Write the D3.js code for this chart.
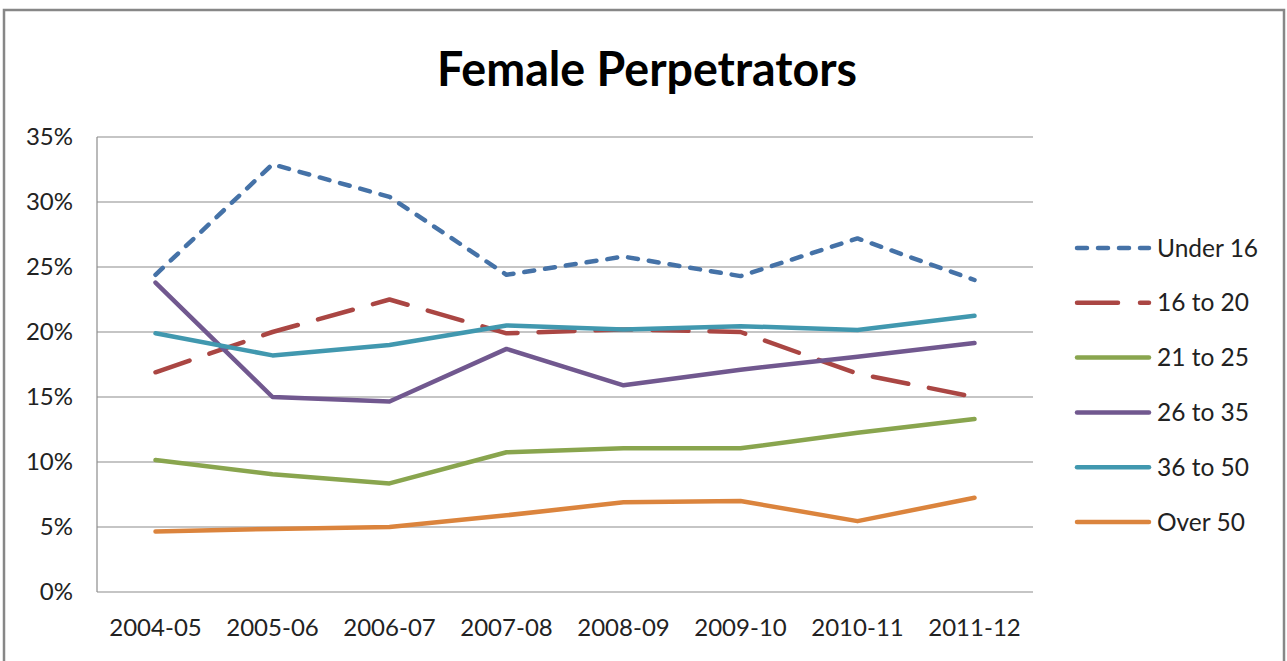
<!DOCTYPE html>
<html><head><meta charset="utf-8">
<script src="https://cdn.jsdelivr.net/npm/d3@7"></script>
<style>body{margin:0;background:#fff;}svg{display:block;}</style>
</head><body>
<svg id="c" width="1287" height="661"></svg>
<script>
const categories = ["2004-05","2005-06","2006-07","2007-08","2008-09","2009-10","2010-11","2011-12"];
const under16 = [24.4,32.9,30.4,24.4,25.8,24.3,27.2,24.0];
const age16to20 = [16.9,20.0,22.5,19.9,20.2,20.0,16.8,15.0];
const age21to25 = [10.15,9.05,8.35,10.75,11.05,11.05,12.25,13.3];
const age26to35 = [23.8,15.0,14.65,18.7,15.9,17.1,18.1,19.15];
const age36to50 = [19.9,18.2,19.0,20.5,20.2,20.45,20.15,21.25];
const over50 = [4.65,4.85,5.0,5.9,6.9,7.0,5.45,7.25];
const yTicks = [0,5,10,15,20,25,30,35];
const seriesNames = ["Under 16","16 to 20","21 to 25","26 to 35","36 to 50","Over 50"];
const seriesValues = [under16, age16to20, age21to25, age26to35, age36to50, over50];
const colors = ["#4572A7","#AA4643","#89A54E","#71588F","#4198AF","#DB843D"];
const dashes = ["10,11","36,21",null,null,null,null];

const svg = d3.select("#c");
const font = "Lato, 'Open Sans', sans-serif";

// outer border
svg.append("rect").attr("x",4).attr("y",10).attr("width",1280).attr("height",660)
  .attr("fill","none").attr("stroke","#878787").attr("stroke-width",2.5);

const L=97, R=1033, T=137, B=592;
const x = d3.scaleBand().domain(categories).range([L,R]);
const y = d3.scaleLinear().domain([0,35]).range([B,T]);

// gridlines
svg.append("g").selectAll("line").data(yTicks).join("line")
  .attr("x1",L).attr("x2",R).attr("y1",d=>y(d)).attr("y2",d=>y(d))
  .attr("stroke","#8c8c8c").attr("stroke-width",1.2);
svg.append("line").attr("x1",L).attr("x2",L).attr("y1",T).attr("y2",B)
  .attr("stroke","#8c8c8c").attr("stroke-width",1.2);

// y axis labels
const yAxis = d3.axisLeft(y).tickValues(yTicks).tickFormat(d=>d+"%").tickSize(0).tickPadding(24);
const gy = svg.append("g").attr("transform",`translate(${L},0)`).call(yAxis);
gy.select(".domain").remove();
gy.selectAll("text").attr("font-family",font).attr("font-size",24).attr("fill","#222");

// x axis labels
const xAxis = d3.axisBottom(x).tickSize(0).tickPadding(27);
const gx = svg.append("g").attr("transform",`translate(0,${B})`).call(xAxis);
gx.select(".domain").remove();
gx.selectAll("text").attr("font-family",font).attr("font-size",24).attr("fill","#222");

// lines
const line = d3.line().x((d,i)=>x(categories[i])+x.bandwidth()/2).y(d=>y(d));
seriesValues.forEach((vals,k)=>{
  svg.append("path").datum(vals).attr("d",line).attr("fill","none")
    .attr("stroke",colors[k]).attr("stroke-width",4.5)
    .attr("stroke-linejoin","round").attr("stroke-linecap","round")
    .attr("stroke-dasharray",dashes[k]);
});

// legend
const lg = svg.append("g");
seriesNames.forEach((n,k)=>{
  const ly = 248 + k*54.8;
  lg.append("line").attr("x1",1077).attr("x2",1149).attr("y1",ly).attr("y2",ly)
    .attr("stroke",colors[k]).attr("stroke-width",4.5).attr("stroke-linecap","round")
    .attr("stroke-dasharray",k===0?"10,11":(k===1?"41,22":null));
  lg.append("text").attr("x",1157).attr("y",ly).attr("dy","0.35em")
    .attr("font-family",font).attr("font-size",24.5).attr("fill","#222").text(n);
});

// title
svg.append("text").attr("x",647).attr("y",86).attr("text-anchor","middle")
  .attr("font-family",font).attr("font-weight","bold").attr("font-size",47)
  .attr("textLength",420).attr("lengthAdjust","spacingAndGlyphs")
  .attr("fill","#000").text("Female Perpetrators");
</script>
</body></html>
